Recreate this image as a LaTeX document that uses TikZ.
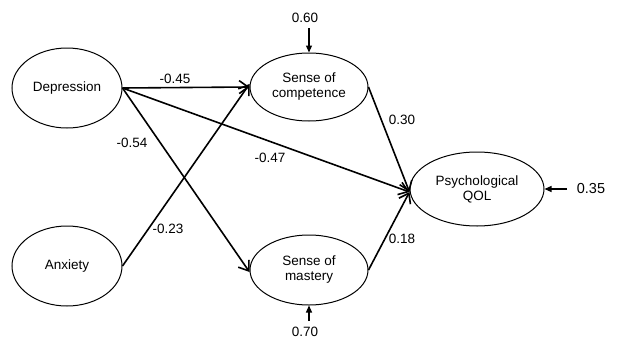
\documentclass[tikz,border=0pt]{standalone}
\usepackage{fontspec}
\setmainfont{Liberation Sans}
\usetikzlibrary{shapes.geometric,arrows.meta}
\begin{document}
\begin{tikzpicture}[x=1pt,y=-1pt,
  latent/.style={draw, ellipse, line width=1pt, inner sep=0pt, align=center,
    font=\fontsize{13.5}{15}\selectfont},
  path/.style={line width=1.6pt, -{Straight Barb[length=9pt,width=13pt,line width=1.6pt]}},
  err/.style={line width=1.2pt, -{Triangle[length=7pt,width=6pt]}},
  lbl/.style={font=\fontsize{13.5}{15}\selectfont, inner sep=1pt}]
\useasboundingbox (0,0) rectangle (618,340);
\node[latent, minimum width=110pt, minimum height=80pt] (dep) at (67,88) {Depression};
\node[latent, minimum width=110pt, minimum height=80pt] (anx) at (67,266) {Anxiety};
\node[latent, minimum width=118pt, minimum height=68pt] (comp) at (309,87) {Sense of\\competence};
\node[latent, minimum width=118pt, minimum height=70pt] (mast) at (309,270) {Sense of\\mastery};
\node[latent, minimum width=134pt, minimum height=74pt] (qol) at (477,189) {Psychological\\QOL};
\draw[path] (dep.east) -- (comp.west);
\draw[path] (dep.east) -- ([yshift=-3pt]qol.west);
\draw[path] (dep.east) -- ([yshift=-2pt]mast.west);
\draw[path] (anx.east) -- ([yshift=3pt]comp.west);
\draw[path] (comp.east) -- ([yshift=-3pt]qol.west);
\draw[path] (mast.east) -- ([yshift=-3pt]qol.west);
\node[lbl] (l1) at (175,79) {-0.45};
\node[lbl] (l2) at (270,158) {-0.47};
\node[lbl] (l3) at (132,143) {-0.54};
\node[lbl] (l4) at (168,229) {-0.23};
\node[lbl] (l5) at (402,120) {0.30};
\node[lbl] (l6) at (402,239) {0.18};
\node[lbl] (e1) at (305,18) {0.60};
\node[lbl] (e2) at (305,332) {0.70};
\node[lbl, font=\fontsize{14.5}{16}\selectfont] (e3) at (591,189) {0.35};
\coordinate (c1) at (309,28);
\coordinate (c2) at (309,321);
\coordinate (c3) at (567,189);
\draw[err] (c1) -- (comp.north);
\draw[err] (c2) -- (mast.south);
\draw[err] (c3) -- (qol.east);
\end{tikzpicture}
\end{document}
